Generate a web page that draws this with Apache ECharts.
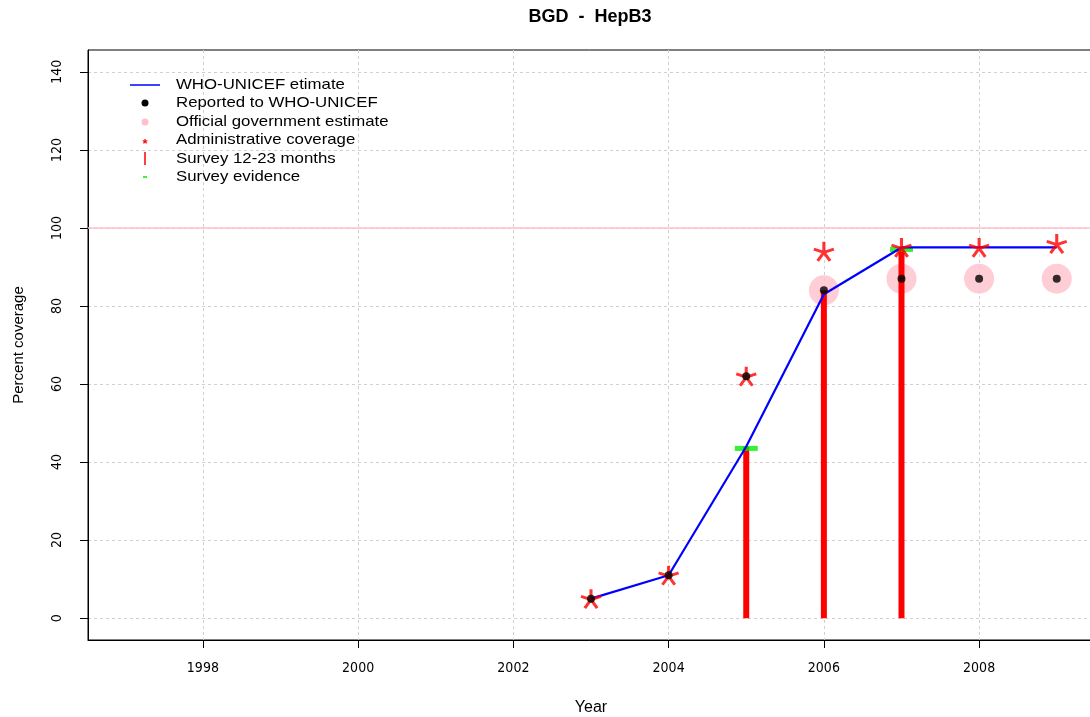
<!DOCTYPE html>
<html><head><meta charset="utf-8">
<script src="https://cdn.jsdelivr.net/npm/echarts@6/dist/echarts.min.js"></script>
<style>html,body{margin:0;padding:0;background:#fff}#c{width:1090px;height:717px}</style>
</head><body><div id="c"></div>
<script>
const years = [2003, 2004, 2005, 2006, 2007, 2008, 2009];
const whoUnicef = [5, 11, 44, 83, 95, 95, 95];
const reported = [5, 11, 62, 84, 87, 87, 87];
const officialYears = [2006, 2007, 2008, 2009];
const official = [84, 87, 87, 87];
const adminYears = [2003, 2004, 2005, 2006, 2007, 2008, 2009];
const admin = [5, 11, 62, 94, 95, 95, 96];
const surveyYears = [2005, 2006, 2007];
const survey = [44, 84, 95];
const evidenceYears = [2005, 2007];
const evidence = [43.5, 94.5];
const xTicks = [1998, 2000, 2002, 2004, 2006, 2008];
const yTicks = [0, 20, 40, 60, 80, 100, 120, 140];
const refLine = 100;

const FONT = 'Liberation Sans, Arial, sans-serif';
const NARROW = '"DejaVu Sans Condensed", "Liberation Sans", sans-serif';
const zip = (xs, ys) => xs.map((x, i) => [x, ys[i]]);
const starPath = 'path://M0,0 L0,-10 M0,0 L9.5,-3.1 M0,0 L5.9,8.1 M0,0 L-5.9,8.1 M0,0 L-9.5,-3.1';

const chart = echarts.init(document.getElementById('c'));
const legendItems = [
  'WHO-UNICEF etimate', 'Reported to WHO-UNICEF', 'Official government estimate',
  'Administrative coverage', 'Survey 12-23 months', 'Survey evidence'
];
const rowY = [85, 103, 122, 140, 159, 177];
const graphics = [];
legendItems.forEach((t, i) => {
  graphics.push({ type: 'text', x: 176, y: rowY[i], scaleX: 1.12, style: { text: t, font: '15px ' + FONT, fill: '#000', verticalAlign: 'middle' }, z: 100 });
});
graphics.push({ type: 'line', shape: { x1: 130, y1: rowY[0], x2: 160, y2: rowY[0] }, style: { stroke: '#0000ff', lineWidth: 1.5 }, z: 100 });
graphics.push({ type: 'circle', shape: { cx: 145, cy: rowY[1], r: 3.5 }, style: { fill: '#000' }, z: 100 });
graphics.push({ type: 'circle', shape: { cx: 145, cy: rowY[2], r: 3.5 }, style: { fill: '#ffc0cb' }, z: 100 });
graphics.push({ type: 'text', x: 145, y: rowY[3] + 4, style: { text: '*', font: 'bold 13px ' + FONT, fill: '#ff0000', align: 'center', verticalAlign: 'middle' }, z: 100 });
graphics.push({ type: 'line', shape: { x1: 145, y1: rowY[4] - 7, x2: 145, y2: rowY[4] + 6 }, style: { stroke: '#ff0000', lineWidth: 1.5 }, z: 100 });
graphics.push({ type: 'line', shape: { x1: 143, y1: rowY[5], x2: 147, y2: rowY[5] }, style: { stroke: '#00ee00', lineWidth: 1.5 }, z: 100 });
graphics.push({ type: 'text', x: 590, y: 17, style: { text: 'BGD  -  HepB3', font: 'bold 18px ' + FONT, fill: '#000', align: 'center', verticalAlign: 'middle' }, z: 100 });

const option = {
  animation: false,
  backgroundColor: '#fff',
  grid: { left: 88, top: 50, width: 1006, height: 590, outerBoundsMode: 'none', containLabel: false, show: true, borderColor: '#000', borderWidth: 1, backgroundColor: 'transparent' },
  xAxis: {
    type: 'value', min: 1996.52, max: 2009.48,
    name: 'Year', nameLocation: 'middle', nameGap: 60,
    nameTextStyle: { fontFamily: FONT, fontSize: 16, color: '#000' },
    axisLine: { show: true, onZero: false, lineStyle: { color: '#000', width: 1 } },
    axisTick: { show: true, length: 8, customValues: xTicks, lineStyle: { color: '#000' } },
    axisLabel: { customValues: xTicks, fontFamily: NARROW, fontSize: 14, color: '#000', margin: 21, formatter: v => String(v) },
    splitLine: { show: true, lineStyle: { color: '#d0d0d0', type: [3, 3] } }
  },
  yAxis: {
    type: 'value', min: -5.6, max: 145.6,
    name: 'Percent coverage', nameLocation: 'middle', nameGap: 62, nameRotate: 90,
    nameTextStyle: { fontFamily: FONT, fontSize: 15, color: '#000' },
    axisLine: { show: true, onZero: false, lineStyle: { color: '#000', width: 1 } },
    axisTick: { show: true, length: 8, customValues: yTicks, lineStyle: { color: '#000' } },
    axisLabel: { customValues: yTicks, rotate: 90, fontFamily: NARROW, fontSize: 14, color: '#000', margin: 24, formatter: v => String(v) },
    splitLine: { show: true, lineStyle: { color: '#d0d0d0', type: [3, 3] } }
  },
  graphic: graphics,
  series: [
    {
      name: 'Official government estimate', type: 'scatter', z: 1,
      data: zip(officialYears, official), symbol: 'circle', symbolSize: 30,
      itemStyle: { color: '#ffc0cb' },
      markLine: {
        silent: true, symbol: 'none', label: { show: false }, z: 3,
        lineStyle: { color: '#ffc0cb', width: 1.5, type: 'solid', opacity: 1 },
        data: [{ yAxis: refLine }]
      }
    },
    {
      name: 'Survey 12-23 months', type: 'bar', z: 2, barWidth: 6,
      data: zip(surveyYears, survey), itemStyle: { color: '#ff0000' }
    },
    {
      name: 'Survey evidence', type: 'scatter', z: 3,
      data: zip(evidenceYears, evidence), symbol: 'rect', symbolSize: [23, 5],
      itemStyle: { color: '#00ee00' }
    },
    {
      name: 'WHO-UNICEF etimate', type: 'line', z: 4,
      data: zip(years, whoUnicef), showSymbol: false, symbol: 'none',
      lineStyle: { color: '#0000ff', width: 2.2 }
    },
    {
      name: 'Administrative coverage', type: 'scatter', z: 5,
      data: zip(adminYears, admin), symbol: starPath, symbolSize: [20, 19],
      itemStyle: { color: 'transparent', borderColor: '#ff0000', borderWidth: 3 }
    },
    {
      name: 'Reported to WHO-UNICEF', type: 'scatter', z: 6,
      data: zip(years, reported), symbol: 'circle', symbolSize: 8,
      itemStyle: { color: '#000' }
    }
  ]
};
chart.setOption(option);
</script>
</body></html>
